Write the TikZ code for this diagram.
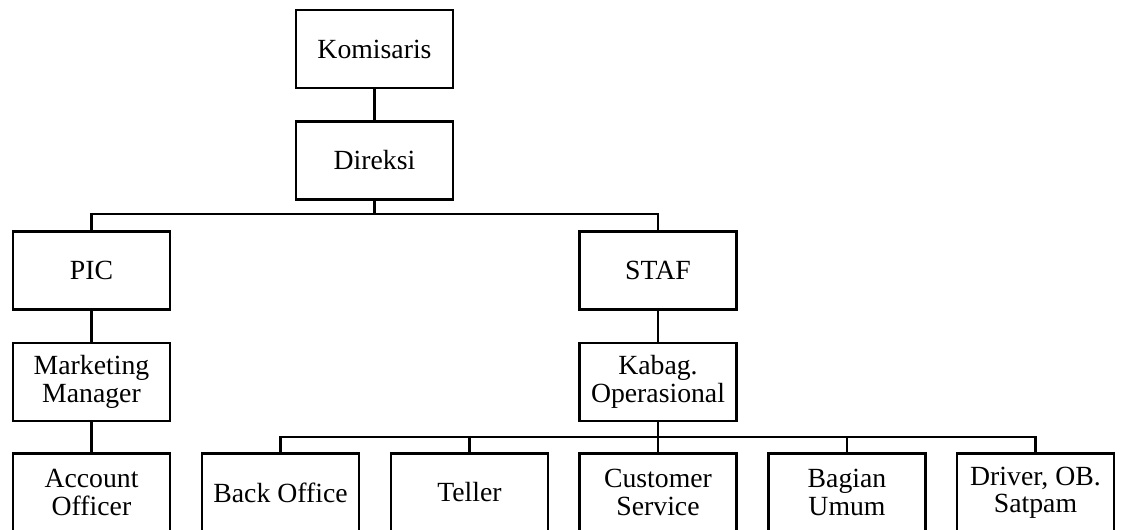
\documentclass[tikz,border=0pt]{standalone}
\usepackage{fontspec}
\setmainfont{Liberation Serif}
\begin{document}
\begin{tikzpicture}[x=0.75pt,y=-0.75pt,
  unit/.style={draw, line width=2.2pt, minimum width=117.75pt, minimum height=58.5pt,
    inner sep=0pt, align=center, font=\fontsize{20.8}{20.5}\selectfont},
  link/.style={line width=2.2pt}]
\useasboundingbox (0,0) rectangle (1122,530);
% top levels
\node[unit] (kom) at (374.5,49) {Komisaris};
\node[unit] (dir) at (374.5,160.5) {Direksi};
\node[unit] (pic) at (91.5,270.5) {PIC};
\node[unit] (staf) at (658,270.5) {STAF};
\node[unit] (mm) at (91.5,382) {Marketing\\Manager};
\node[unit] (kab) at (658,382) {Kabag.\\Operasional};
% bottom row
\node[unit] (ao) at (91.5,492.5) {Account\\Officer};
\node[unit] (bo) at (280.5,492.5) {Back Office};
\node[unit] (tel) at (469.5,492.5) {Teller};
\node[unit] (cs) at (658,492.5) {Customer\\Service};
\node[unit] (bu) at (847,492.5) {Bagian\\Umum};
\node[unit] (drv) at (1035.5,492.5) {Driver, OB.\\Satpam};
% bus levels
\coordinate (b1) at (0,214);
\coordinate (b2) at (0,437);
% connectors
\draw[link] (kom.south) -- (dir.north);
\draw[link] (dir.south) -- (dir |- b1);
\draw[link] (pic.north) |- (staf |- b1) -- (staf.north);
\draw[link] (pic.south) -- (mm.north);
\draw[link] (mm.south) -- (ao.north);
\draw[link] (staf.south) -- (kab.north);
\draw[link] (kab.south) -- (kab |- b2);
\draw[link] (bo.north) |- (drv |- b2) -- (drv.north);
\draw[link] (tel.north) -- (tel |- b2);
\draw[link] (cs.north) -- (cs |- b2);
\draw[link] (bu.north) -- (bu |- b2);
\end{tikzpicture}
\end{document}
